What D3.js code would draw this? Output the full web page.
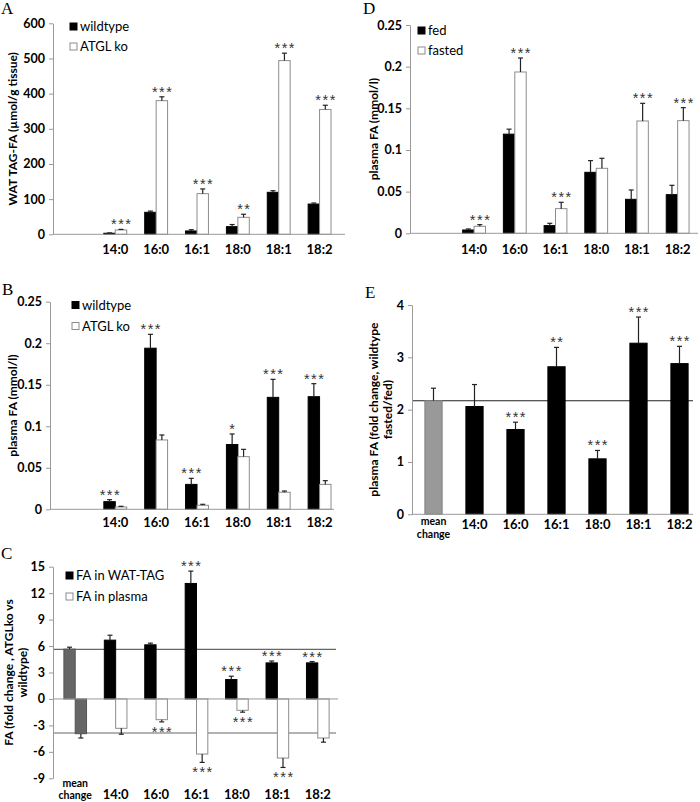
<!DOCTYPE html>
<html lang="en">
<head>
<meta charset="UTF-8">
<title>Fatty acid panels A-E</title>
<script src="https://cdn.jsdelivr.net/npm/d3@7"></script>
<style>
  body { margin: 0; background: #fff; }
  svg text { font-family: Lato, "Open Sans", sans-serif; fill: #000; }
  .letter { font-family: "Liberation Serif", "DejaVu Serif", serif !important; font-size: 17px; }
  .tick text { font-size: 12.5px; font-weight: bold; }
  .cat { font-size: 13px; font-weight: bold; }
  .cat-small { font-size: 10.5px; font-weight: bold; }
  .ytitle { font-size: 12px; font-weight: bold; }
  .legend { font-size: 13px; }
  .sig { font-family: "Liberation Sans", Arial, sans-serif !important; font-size: 14.5px; fill: #333 !important; letter-spacing: 1.5px; }
</style>
</head>
<body>
<svg id="fig" width="700" height="802"></svg>
<script>
// categories
const fattyAcids = ["14:0", "16:0", "16:1", "18:0", "18:1", "18:2"];
const blankFirst = [""].concat(fattyAcids);
const meanFirst = ["mean change"].concat(fattyAcids);

// A: WAT TAG-FA (umol/g tissue)
const aWild    = [3, 62.6, 9.5, 21.8, 119.4, 86];
const aWildErr = [1, 3.4, 3.5, 6, 4.6, 3];
const aKo      = [12.3, 380, 115.6, 48.3, 494, 355];
const aKoErr   = [1.7, 11, 13.4, 8.7, 21, 12];
const aSig     = ["***", "***", "***", "**", "***", "***"];
const aTicks   = [0, 100, 200, 300, 400, 500, 600];

// B: plasma FA (mmol/l), wildtype vs ATGL ko
const bWild    = [0.0092, 0.194, 0.030, 0.078, 0.1348, 0.1356];
const bWildErr = [0.0024, 0.0167, 0.0073, 0.0127, 0.0217, 0.0157];
const bKo      = [0.0028, 0.0835, 0.0048, 0.0634, 0.0205, 0.030];
const bKoErr   = [0.0008, 0.006, 0.0012, 0.0088, 0.0015, 0.0045];
const bSig     = ["***", "***", "***", "*", "***", "***"];
const plasmaTicks = [0, 0.05, 0.1, 0.15, 0.2, 0.25];

// C: fold change ATGLko vs wildtype
const cWat      = [5.65, 6.67, 6.14, 13.1, 2.2, 4.09, 4.09];
const cWatErr   = [0.22, 0.56, 0.19, 1.4, 0.38, 0.21, 0.15];
const cPlasma   = [-3.94, -3.33, -2.35, -6.25, -1.29, -6.7, -4.43];
const cPlasmaErr = [0.49, 0.67, 0.25, 0.95, 0.21, 1.07, 0.47];
const cWatSig    = ["", "", "", "***", "***", "***", "***"];
const cPlasmaSig = ["", "", "***", "***", "***", "***", ""];
const cRefs     = [5.62, -3.86];
const cTicks    = [-9, -6, -3, 0, 3, 6, 9, 12, 15];

// D: plasma FA (mmol/l), fed vs fasted
const dFed       = [0.004, 0.119, 0.0092, 0.0732, 0.0408, 0.0464];
const dFedErr    = [0.0012, 0.006, 0.0028, 0.014, 0.0112, 0.0112];
const dFasted    = [0.0084, 0.1936, 0.0296, 0.078, 0.1348, 0.1352];
const dFastedErr = [0.002, 0.0168, 0.0076, 0.012, 0.0212, 0.0156];
const dSig       = ["***", "***", "***", "", "***", "***"];

// E: fold change fasted/fed
const eFold    = [2.17, 2.06, 1.62, 2.82, 1.06, 3.27, 2.88];
const eFoldErr = [0.24, 0.42, 0.14, 0.37, 0.16, 0.5, 0.33];
const eSig     = ["", "", "***", "**", "***", "***", "***"];
const eRefs    = [2.17];
const eTicks   = [0, 1, 2, 3, 4];

const svg = d3.select("#fig");
const fmtPlain = d => String(d);

function drawPanel(p) {
  const g = svg.append("g");
  const x = d3.scaleBand().domain(p.cats).range(p.xr);
  const y = d3.scaleLinear().domain(p.domain).range(p.yr);
  const bw = x.bandwidth() * p.barFrac;

  // panel letter
  g.append("text").attr("class", "letter")
    .attr("x", p.letter[1]).attr("y", p.letter[2]).text(p.letter[0]);

  // reference lines
  (p.refs || []).forEach(r => {
    g.append("line")
      .attr("x1", p.axisX).attr("x2", p.refEnd)
      .attr("y1", y(r)).attr("y2", y(r))
      .attr("stroke", p.refColor).attr("stroke-width", 1.1);
  });

  // bars
  p.series.forEach(s => {
    const vals = p.hasBlank ? [null].concat(s.values) : s.values;
    const errs = p.hasBlank ? [null].concat(s.errors) : s.errors;
    const sigs = s.sig ? (p.hasBlank ? [""].concat(s.sig) : s.sig) : null;
    p.cats.forEach((c, i) => {
      const v = vals[i];
      if (v == null) return;
      const cx = x(c) + x.bandwidth() / 2;
      const x0 = cx + s.off * bw;
      const isMean = c === "mean change";
      g.append("rect")
        .attr("x", x0).attr("width", bw)
        .attr("y", y(Math.max(0, v)))
        .attr("height", Math.abs(y(v) - y(0)))
        .attr("fill", isMean && s.meanFill ? s.meanFill : s.fill)
        .attr("stroke", isMean && s.meanStroke ? s.meanStroke : s.stroke)
        .attr("stroke-width", 1);
      const sign = v < 0 ? -1 : 1;
      const end = v + sign * errs[i];
      const mx = x0 + bw / 2;
      g.append("line").attr("x1", mx).attr("x2", mx)
        .attr("y1", y(v)).attr("y2", y(end))
        .attr("stroke", "#222").attr("stroke-width", 1.2);
      g.append("line").attr("x1", mx - 2.5).attr("x2", mx + 2.5)
        .attr("y1", y(end)).attr("y2", y(end))
        .attr("stroke", "#222").attr("stroke-width", 1.2);
      if (sigs && sigs[i]) {
        g.append("text").attr("class", "sig")
          .attr("x", mx + 0.8).attr("text-anchor", "middle")
          .attr("y", sign > 0 ? y(end) : y(end) + 15)
          .text(sigs[i]);
      }
    });
  });

  // y axis
  const ax = g.append("g").attr("transform", `translate(${p.axisX},0)`)
    .call(d3.axisLeft(y).tickValues(p.ticks).tickFormat(p.fmt)
      .tickSizeInner(4).tickSizeOuter(0).tickPadding(4));
  ax.select(".domain").attr("stroke", "#999");
  ax.selectAll(".tick line").attr("stroke", "#999");

  // x axis line at zero
  g.append("line").attr("x1", p.axisX).attr("x2", p.axisEnd)
    .attr("y1", y(0)).attr("y2", y(0)).attr("stroke", "#999");

  // category labels
  p.cats.forEach(c => {
    const cx = x(c) + x.bandwidth() / 2;
    if (c === "mean change") {
      g.append("text").attr("class", "cat-small").attr("text-anchor", "middle")
        .attr("x", cx).attr("y", p.labelY + p.meanDy[0]).text("mean");
      g.append("text").attr("class", "cat-small").attr("text-anchor", "middle")
        .attr("x", cx).attr("y", p.labelY + p.meanDy[1]).text("change");
    } else if (c) {
      g.append("text").attr("class", "cat").attr("text-anchor", "middle")
        .attr("x", cx).attr("y", p.labelY).text(c);
    }
  });

  // y title
  const mid = (p.yr[0] + p.yr[1]) / 2;
  p.title.forEach((t, k) => {
    g.append("text").attr("class", "ytitle")
      .attr("text-anchor", "middle")
      .attr("transform", `translate(${p.titleX + k * 14},${mid}) rotate(-90)`)
      .attr("dy", "0.35em")
      .text(t);
  });

  // legend
  if (p.legend) {
    p.legend.items.forEach((it, k) => {
      const ly = p.legend.y + k * p.legend.dy;
      g.append("rect").attr("x", p.legend.x).attr("y", ly - 3.5)
        .attr("width", 7).attr("height", 7)
        .attr("fill", it.fill).attr("stroke", it.stroke).attr("stroke-width", 1);
      g.append("text").attr("class", "legend")
        .attr("x", p.legend.x + 10).attr("y", ly + 4.5).text(it.label);
    });
  }
}

const black = { fill: "#000", stroke: "#000" };
const white = { fill: "#fff", stroke: "#8c8c8c" };

// Panel A
drawPanel({
  letter: ["A", 1, 14], cats: blankFirst, hasBlank: true,
  xr: [54, 340], axisX: 53, axisEnd: 345, barFrac: 0.28,
  domain: [0, 600], yr: [234.3, 23.3], ticks: aTicks, fmt: fmtPlain,
  labelY: 254, titleX: 13, title: ["WAT TAG-FA (µmol/g tissue)"],
  series: [
    Object.assign({ values: aWild, errors: aWildErr, off: -1 }, black),
    Object.assign({ values: aKo, errors: aKoErr, off: 0, sig: aSig }, white)
  ],
  legend: { x: 70, y: 26.5, dy: 20, items: [
    Object.assign({ label: "wildtype" }, black),
    Object.assign({ label: "ATGL ko" }, white)
  ] }
});

// Panel B
drawPanel({
  letter: ["B", 2, 295], cats: blankFirst, hasBlank: true,
  xr: [54, 340], axisX: 50, axisEnd: 334, barFrac: 0.28,
  domain: [0, 0.25], yr: [509.3, 301.7], ticks: plasmaTicks, fmt: fmtPlain,
  labelY: 527, titleX: 13, title: ["plasma FA (mmol/l)"],
  series: [
    Object.assign({ values: bWild, errors: bWildErr, off: -1, sig: bSig }, black),
    Object.assign({ values: bKo, errors: bKoErr, off: 0 }, white)
  ],
  legend: { x: 72, y: 305, dy: 21, items: [
    Object.assign({ label: "wildtype" }, black),
    Object.assign({ label: "ATGL ko" }, white)
  ] }
});

// Panel C
drawPanel({
  letter: ["C", 1, 559], cats: meanFirst, hasBlank: false,
  xr: [55, 338], axisX: 53, axisEnd: 338, barFrac: 0.28,
  domain: [-9, 15], yr: [778.3, 566.7], ticks: cTicks, fmt: fmtPlain,
  labelY: 799, meanDy: [-12, 0], titleX: 9, title: ["FA (fold change , ATGLko vs", "wildtype)"],
  refs: cRefs, refEnd: 336, refColor: "#666",
  series: [
    Object.assign({ values: cWat, errors: cWatErr, off: -1, sig: cWatSig, meanFill: "#666", meanStroke: "#555" }, black),
    Object.assign({ values: cPlasma, errors: cPlasmaErr, off: 0, sig: cPlasmaSig, meanFill: "#666", meanStroke: "#555" }, white)
  ],
  legend: { x: 66, y: 575.5, dy: 21, items: [
    Object.assign({ label: "FA in WAT-TAG" }, black),
    Object.assign({ label: "FA in plasma" }, white)
  ] }
});

// Panel D
drawPanel({
  letter: ["D", 363, 14], cats: blankFirst, hasBlank: true,
  xr: [413, 698], axisX: 410, axisEnd: 698, barFrac: 0.28,
  domain: [0, 0.25], yr: [233.3, 25], ticks: plasmaTicks, fmt: fmtPlain,
  labelY: 254, titleX: 374, title: ["plasma FA (mmol/l)"],
  series: [
    Object.assign({ values: dFed, errors: dFedErr, off: -1 }, black),
    Object.assign({ values: dFasted, errors: dFastedErr, off: 0, sig: dSig }, white)
  ],
  legend: { x: 418, y: 30.5, dy: 20, items: [
    Object.assign({ label: "fed" }, black),
    Object.assign({ label: "fasted" }, white)
  ] }
});

// Panel E
drawPanel({
  letter: ["E", 365, 298], cats: meanFirst, hasBlank: false,
  xr: [413, 700], axisX: 412, axisEnd: 693, barFrac: 0.42,
  domain: [0, 4], yr: [514.3, 305], ticks: eTicks, fmt: fmtPlain,
  labelY: 529, meanDy: [-4, 9], titleX: 374, title: ["plasma FA (fold change, wildtype", "fasted/fed)"],
  refs: eRefs, refEnd: 693, refColor: "#222",
  series: [
    Object.assign({ values: eFold, errors: eFoldErr, off: -0.5, sig: eSig, meanFill: "#999", meanStroke: "#808080" }, black)
  ]
});
</script>
</body>
</html>
